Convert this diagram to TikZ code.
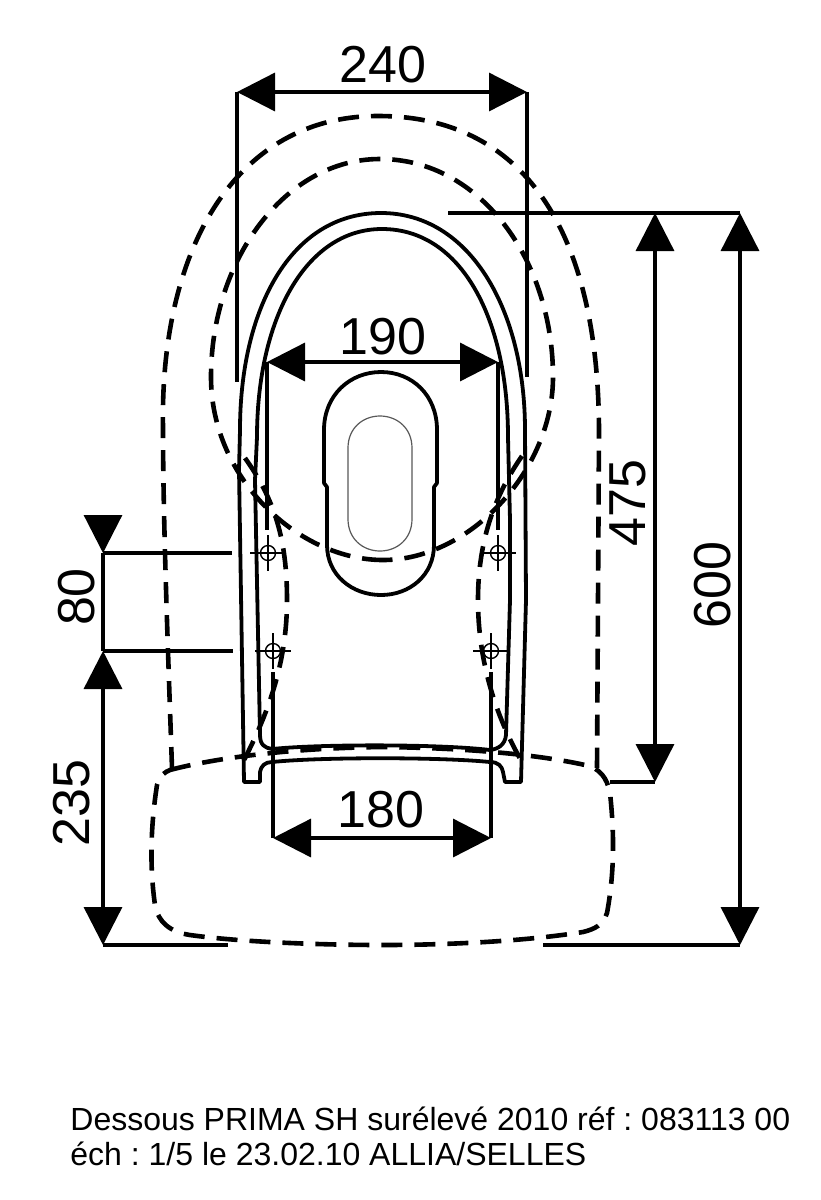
\documentclass[tikz,border=0pt]{standalone}
\usepackage{fontspec}
\setmainfont{Liberation Sans}
\usetikzlibrary{arrows.meta}
\tikzset{
  x=0.5pt,y=-0.5pt,
  solidline/.style={line width=1.9pt,line join=round,line cap=round},
  hid/.style={line width=2.3pt,dash pattern=on 10.5pt off 6pt},
  ext/.style={line width=1.6pt},
  dimline/.style={line width=1.7pt,{Triangle[length=19pt,width=19pt]}-{Triangle[length=19pt,width=19pt]}},
  dimtext/.style={font=\fontsize{26}{26}\selectfont,inner sep=0pt},
  fix/.style={line width=0.7pt},
  note/.style={font=\fontsize{16}{18}\selectfont,inner sep=0pt,anchor=base west}
}
\begin{document}
\frenchspacing
\begin{tikzpicture}
\useasboundingbox[fill=white] (0,0) rectangle (820,1200);

% coordinates
\coordinate (a1) at (237,92); \coordinate (a2) at (527,92);
\coordinate (a1e) at (237,382); \coordinate (a2e) at (527,377);
\coordinate (b1) at (267,362); \coordinate (b2) at (498,362);
\coordinate (b1e) at (267,530); \coordinate (b2e) at (498,530);
\coordinate (c1) at (273,838); \coordinate (c2) at (491,838);
\coordinate (c1e) at (273,672); \coordinate (c2e) at (491,672);
\coordinate (d1) at (655,213); \coordinate (d2) at (655,782);
\coordinate (e1) at (740,213); \coordinate (e2) at (740,945);
\coordinate (de) at (448,213); \coordinate (d2e) at (610,782);
\coordinate (f1) at (103,651); \coordinate (f2) at (103,945);
\coordinate (g1) at (103,518); \coordinate (g2) at (103,553);
\coordinate (g1e) at (232,553); \coordinate (f1e) at (233,651);
\coordinate (h1) at (228,945); \coordinate (h2) at (543,945);

% hidden outlines
\draw[hid] (172,768) .. controls (168,650) and (163,520) .. (163,427)
  .. controls (160,250) and (235,116) .. (378,116)
  .. controls (530,116) and (599,240) .. (599,433)
  -- (597,768);
\draw[hid] (383,560) .. controls (300,560) and (211,480) .. (211,377)
  .. controls (211,260) and (285,159) .. (380,159)
  .. controls (480,159) and (553,260) .. (553,377)
  .. controls (553,470) and (470,560) .. (383,560);
\draw[hid] (245,458) .. controls (275,500) and (287,540) .. (287,600)
  .. controls (287,660) and (270,710) .. (243,762);
\draw[hid] (522,456) .. controls (495,495) and (478,540) .. (478,600)
  .. controls (478,660) and (495,715) .. (522,762);
\draw[hid] (170,770) .. controls (215,758) and (290,748) .. (383,747)
  .. controls (470,748) and (540,755) .. (585,765)
  .. controls (600,768) and (607,778) .. (610,793)
  .. controls (614,830) and (615,870) .. (607,913)
  .. controls (603,925) and (595,929) .. (583,932)
  .. controls (520,942) and (440,945) .. (383,945)
  .. controls (320,945) and (240,942) .. (190,935)
  .. controls (170,932) and (158,922) .. (155,905)
  .. controls (150,870) and (150,830) .. (157,785)
  .. controls (160,775) and (165,772) .. (170,770);

% solid body
\draw[solidline] (244,782) -- (239,470) -- (240,430)
  .. controls (240,310) and (290,213) .. (381,213)
  .. controls (470,213) and (525,310) .. (525,430)
  -- (526,600) -- (521,782) -- (505,782) -- (503,772)
  .. controls (502,766) and (498,762) .. (490,762)
  .. controls (440,757) and (320,757) .. (272,762)
  .. controls (265,762) and (261,766) .. (260,772)
  -- (260,782) -- cycle;
\draw[solidline] (255,480) -- (257,437)
  .. controls (257,320) and (305,229) .. (382,229)
  .. controls (462,229) and (508,320) .. (508,437)
  -- (510,520) -- (510,600) -- (506,735)
  .. controls (505,745) and (498,749) .. (490,750)
  .. controls (440,744) and (320,744) .. (272,749)
  .. controls (265,748) and (260,745) .. (260,735)
  -- cycle;

% bowl
\draw[solidline] (327,545) -- (327,487) -- (324,483) -- (324,430)
  .. controls (324,395) and (350,372) .. (381,372)
  .. controls (412,372) and (437,395) .. (437,430)
  -- (437,483) -- (434,487) -- (434,545)
  .. controls (434,575) and (410,595) .. (381,595)
  .. controls (352,595) and (327,575) .. (327,545);
\draw[line width=0.6pt,black!65] (348,448) .. controls (348,428) and (363,416) .. (380,416)
  .. controls (397,416) and (412,428) .. (412,448) -- (412,519)
  .. controls (412,539) and (397,551) .. (380,551)
  .. controls (363,551) and (348,539) .. (348,519) -- cycle;

% fixing holes
\foreach \n/\x/\y in {p1/268/553,p2/273/651,p3/498/553,p4/491/651}{
  \node[circle,draw,line width=0.7pt,minimum size=7.5pt,inner sep=0pt] (\n) at (\x,\y) {};
  \draw[fix] (\x-18,\y) -- (\x+18,\y) (\x,\y-18) -- (\x,\y+18);
}

% extension lines
\draw[ext] (a1) -- (a1e); \draw[ext] (a2) -- (a2e);
\draw[ext] (b1) -- (b1e); \draw[ext] (b2) -- (b2e);
\draw[ext] (c1) -- (c1e); \draw[ext] (c2) -- (c2e);
\draw[ext] (de) -- (e1); \draw[ext] (d2e) -- (d2);
\draw[ext] (h2) -- (e2); \draw[ext] (f2) -- (h1);
\draw[ext] (g2) -- (g1e); \draw[ext] (f1) -- (f1e);

% dimension lines
\draw[dimline] (a1) -- (a2);
\draw[dimline] (b1) -- (b2);
\draw[dimline] (c1) -- (c2);
\draw[dimline] (d1) -- (d2);
\draw[dimline] (e1) -- (e2);
\draw[dimline] (f1) -- (f2);
\draw[ext,-{Triangle[length=19pt,width=19pt]}] (g1) -- (g2);
\draw[ext] (g2) -- (f1);

% labels
\node[dimtext] (t240) at (383,65) {240};
\node[dimtext] (t190) at (383,337) {190};
\node[dimtext] (t180) at (381,810) {180};
\node[dimtext,rotate=90] (t475) at (628,503) {475};
\node[dimtext,rotate=90] (t600) at (713,585) {600};
\node[dimtext,rotate=90] (t80) at (77,597) {80};
\node[dimtext,rotate=90] (t235) at (72,803) {235};
\node[note] (n1) at (70,1130) {Dessous PRIMA SH surélevé 2010 réf : 083113 00};
\node[note] (n2) at (70,1165) {éch : 1/5 le 23.02.10 ALLIA/SELLES};
\end{tikzpicture}
\end{document}
